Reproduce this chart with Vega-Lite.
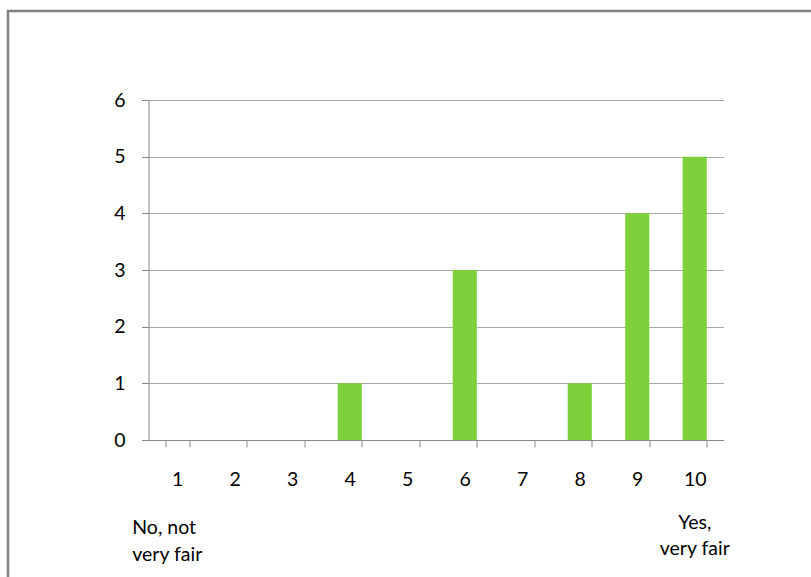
{
  "$schema": "https://vega.github.io/schema/vega-lite/v6.json",
  "width": 575,
  "height": 340,
  "autosize": {"type": "none"},
  "padding": {"left": 148.5, "top": 100, "right": 87.5, "bottom": 137},
  "background": "white",
  "config": {
    "view": {"stroke": null},
    "font": "Lato",
    "axis": {
      "labelFont": "Lato",
      "labelFontSize": 19.5,
      "labelColor": "#000000",
      "domainColor": "#868686",
      "tickColor": "#868686",
      "gridColor": "#A6A6A6",
      "title": null
    }
  },
  "datasets": {
    "ratings": [
      {"score": 1, "count": 0, "note": "No, not\nvery fair"},
      {"score": 2, "count": 0},
      {"score": 3, "count": 0},
      {"score": 4, "count": 1},
      {"score": 5, "count": 0},
      {"score": 6, "count": 3},
      {"score": 7, "count": 0},
      {"score": 8, "count": 1},
      {"score": 9, "count": 4},
      {"score": 10, "count": 5, "note": "Yes,\nvery fair"}
    ]
  },
  "data": {"name": "ratings"},
  "layer": [
    {
      "data": {"values": [{"frame": "border"}]},
      "mark": {"type": "rect", "fill": null, "stroke": "#808080", "strokeWidth": 2.5},
      "encoding": {
        "x": {"value": -140.5},
        "y": {"value": -89},
        "x2": {"value": 700},
        "y2": {"value": 520}
      }
    },
    {
      "mark": {"type": "bar", "color": "#7ED13B"},
      "encoding": {
        "x": {
          "field": "score",
          "type": "ordinal",
          "scale": {"paddingInner": 0.58, "paddingOuter": 0.29},
          "axis": {
            "labelAngle": 0,
            "tickBand": "extent",
            "tickSize": 7,
            "labelBaseline": "alphabetic",
            "labelPadding": 38,
            "grid": false
          }
        },
        "y": {
          "field": "count",
          "type": "quantitative",
          "scale": {"domain": [0, 6], "nice": false},
          "axis": {
            "values": [0, 1, 2, 3, 4, 5, 6],
            "tickSize": 7,
            "labelPadding": 16.5,
            "grid": true,
            "format": "d"
          }
        }
      }
    },
    {
      "transform": [{"filter": "datum.score == 1"}],
      "mark": {"type": "text", "lineBreak": "\n", "fontSize": 19.5, "lineHeight": 27, "baseline": "alphabetic", "align": "left", "dx": -45, "dy": 94, "color": "#000000"},
      "encoding": {
        "x": {"field": "score", "type": "ordinal"},
        "y": {"datum": 0, "type": "quantitative"},
        "text": {"field": "note"}
      }
    },
    {
      "transform": [{"filter": "datum.score == 10"}],
      "mark": {"type": "text", "lineBreak": "\n", "fontSize": 19.5, "lineHeight": 26, "baseline": "alphabetic", "align": "center", "dy": 89, "color": "#000000"},
      "encoding": {
        "x": {"field": "score", "type": "ordinal"},
        "y": {"datum": 0, "type": "quantitative"},
        "text": {"field": "note"}
      }
    }
  ]
}
